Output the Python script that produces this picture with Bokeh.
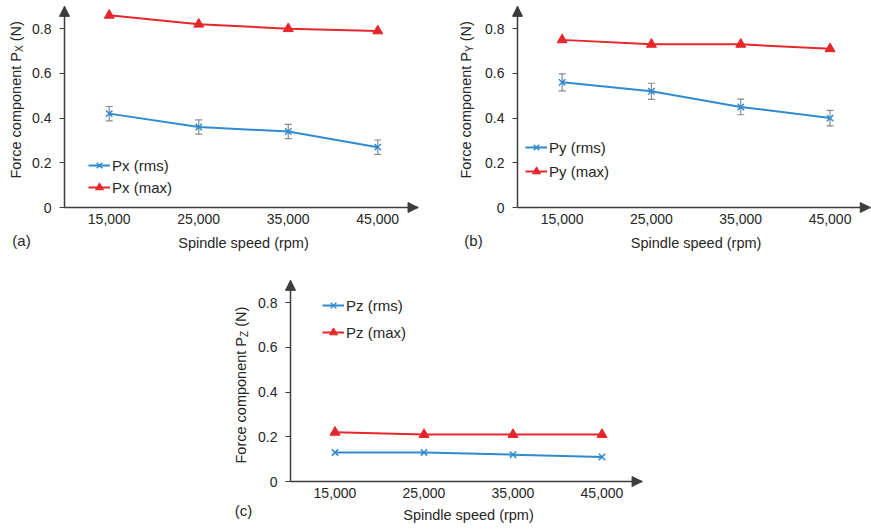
from bokeh.plotting import figure
from bokeh.models import (ColumnDataSource, Whisker, TeeHead, Arrow, NormalHead, Label,
                          FixedTicker, NumeralTickFormatter, Legend, LegendItem, Range1d, Spacer)
from bokeh.layouts import column, row
from bokeh.embed import file_html
from bokeh.resources import INLINE
import math

# ---------------- data ----------------
speeds = ["15,000", "25,000", "35,000", "45,000"]
px_rms = [0.42, 0.36, 0.34, 0.27]
px_rms_err = [0.032, 0.032, 0.032, 0.032]
px_max = [0.86, 0.82, 0.80, 0.79]
py_rms = [0.56, 0.52, 0.45, 0.40]
py_rms_err = [0.038, 0.036, 0.035, 0.035]
py_max = [0.75, 0.73, 0.73, 0.71]
pz_rms = [0.13, 0.13, 0.12, 0.11]
pz_max = [0.22, 0.21, 0.21, 0.21]
y_ticks = [0, 0.2, 0.4, 0.6, 0.8]
x_title = "Spindle speed (rpm)"
y_title_main = "Force component P"
y_title_unit = "(N)"

# ---------------- styles ----------------
FONT = "Liberation Sans"
BLUE = "#2f8bd0"
RED = "#e5262b"
GREY = "#8a8a8a"
AXIS = "#3c3c3c"
TEXT = "#262626"
X_LO, X_HI = 0.5, 4.45
Y_LO, Y_HI = 0.0, 0.90
SY = 223.5  # px per force unit

# Arial / Liberation Sans advance widths (per 1 em)
_W = {'F': .611, 'o': .556, 'r': .333, 'c': .5, 'e': .556, ' ': .278, 'm': .833, 'p': .556,
      'n': .556, 't': .278, 'P': .667, '(': .333, 'N': .722, ')': .333, 'X': .667, 'Y': .667, 'Z': .611}


def tw(s, size):
    return sum(_W.get(ch, .556) for ch in s) * size


def panel(sub, rms, rms_err, mx, names, fig_w, fig_h, ox, oy, sx,
          leg_dx, leg_dy, leg_spacing, tag, tag_dx, tag_dy, ylab_dx, ylab_rise, xt_dy):
    # frame covers the whole figure; axes are fixed at the origin (ox, oy) in figure px
    x0 = X_LO - ox / sx
    x1 = x0 + fig_w / sx
    y1 = Y_LO + oy / SY
    y0 = y1 - fig_h / SY
    p = figure(width=fig_w, height=fig_h, x_range=Range1d(x0, x1), y_range=Range1d(y0, y1),
               output_backend="svg", toolbar_location=None,
               min_border_left=0, min_border_right=0, min_border_top=0, min_border_bottom=0)
    p.xgrid.visible = False
    p.ygrid.visible = False
    p.outline_line_color = None

    xs = list(range(1, len(speeds) + 1))
    data = dict(x=xs, rms=rms, mx=mx)
    if rms_err is not None:
        data["upper"] = [v + e for v, e in zip(rms, rms_err)]
        data["lower"] = [v - e for v, e in zip(rms, rms_err)]
    src = ColumnDataSource(data)

    l1 = p.line("x", "rms", source=src, line_color=BLUE, line_width=2)
    m1 = p.scatter("x", "rms", source=src, marker="x", size=9, line_color=BLUE, line_width=1.5)
    if rms_err is not None:
        p.add_layout(Whisker(source=src, base="x", upper="upper", lower="lower",
                             line_color=GREY, line_width=1.2,
                             upper_head=TeeHead(size=7, line_color=GREY, line_width=1.2),
                             lower_head=TeeHead(size=7, line_color=GREY, line_width=1.2)))
    l2 = p.line("x", "mx", source=src, line_color=RED, line_width=2)
    m2 = p.scatter("x", "mx", source=src, marker="triangle", size=10, fill_color=RED, line_color=RED)

    legend = Legend(items=[LegendItem(label=names[0], renderers=[l1, m1]),
                           LegendItem(label=names[1], renderers=[l2, m2])],
                    location=(ox + leg_dx, fig_h - oy + leg_dy), background_fill_alpha=0,
                    border_line_color=None,
                    label_text_font=FONT, label_text_font_size="15px", label_text_color=TEXT,
                    glyph_width=22, glyph_height=20, label_height=20, spacing=leg_spacing,
                    padding=0, margin=0, label_standoff=2)
    p.add_layout(legend)

    # axes, fixed at the origin
    for ax in (p.xaxis, p.yaxis):
        ax.axis_line_color = AXIS
        ax.axis_line_width = 1.5
        ax.major_tick_line_color = AXIS
        ax.minor_tick_line_color = None
        ax.major_label_text_font = FONT
        ax.major_label_text_font_size = "14px"
        ax.major_label_text_color = TEXT
    p.xaxis.fixed_location = Y_LO
    p.xaxis.bounds = (X_LO, X_HI)
    p.xaxis.ticker = FixedTicker(ticks=xs)
    p.xaxis.major_label_overrides = {x: s for x, s in zip(xs, speeds)}
    p.xaxis.major_tick_out = 0
    p.xaxis.major_tick_in = 0
    p.xaxis.major_label_standoff = 6
    p.yaxis.fixed_location = X_LO
    p.yaxis.bounds = (Y_LO, Y_HI)
    p.yaxis.ticker = FixedTicker(ticks=y_ticks)
    p.yaxis.formatter = NumeralTickFormatter(format="0.[0]")
    p.yaxis.major_tick_out = 5
    p.yaxis.major_tick_in = 0
    p.yaxis.major_label_standoff = 8

    # arrow heads on axes
    p.add_layout(Arrow(end=NormalHead(size=10, fill_color=AXIS, line_color=AXIS),
                       x_start=X_LO, y_start=Y_HI - 0.05, x_end=X_LO, y_end=Y_HI, line_alpha=0))
    p.add_layout(Arrow(end=NormalHead(size=10, fill_color=AXIS, line_color=AXIS),
                       x_start=X_HI - 0.1, y_start=Y_LO, x_end=X_HI, y_end=Y_LO, line_alpha=0))

    # x axis title
    p.add_layout(Label(x=(xs[0] + xs[-1]) / 2, y=Y_LO, y_offset=-xt_dy, text=x_title,
                       text_align="center", text_baseline="middle",
                       text_font=FONT, text_font_size="14.5px", text_color=TEXT))

    # y axis title with subscript, built from pieces
    big, small = 14.5, 10
    pieces = ((y_title_main, big, 0, 0), (sub, small, 4, 0), (y_title_unit, big, 0, tw(" ", big)))
    r = ylab_rise
    for txt, size, dx, gap in pieces:
        r += gap
        p.add_layout(Label(x=X_LO, y=Y_LO, x_offset=ylab_dx + dx, y_offset=r, text=txt,
                           angle=math.pi / 2, text_align="left", text_baseline="middle",
                           text_font=FONT, text_font_size=f"{size}px", text_color=TEXT))
        r += tw(txt, size)

    # panel tag
    p.add_layout(Label(x=X_LO, y=Y_LO, x_offset=tag_dx, y_offset=-tag_dy, text=tag,
                       text_align="center", text_baseline="middle",
                       text_font=FONT, text_font_size="15px", text_color=TEXT))
    return p


pa = panel("X", px_rms, px_rms_err, px_max, ["Px (rms)", "Px (max)"],
           440, 262, 64, 207, 89.5, 24, 10, 2, "(a)", -43, 33, -49, 29, 35)
pb = panel("Y", py_rms, py_rms_err, py_max, ["Py (rms)", "Py (max)"],
           431, 262, 77, 207, 89.3, 8, 26, 4, "(b)", -44, 33, -52, 29, 35)
pc = panel("Z", pz_rms, None, pz_max, ["Pz (rms)", "Pz (max)"],
           440, 268, 70, 219, 89.0, 32, 139, 7, "(c)", -47, 29, -50, 18, 33)

layout = column(row(pa, pb), row(Spacer(width=220, height=268), pc))

open("out.html", "w").write(file_html(layout, INLINE))
